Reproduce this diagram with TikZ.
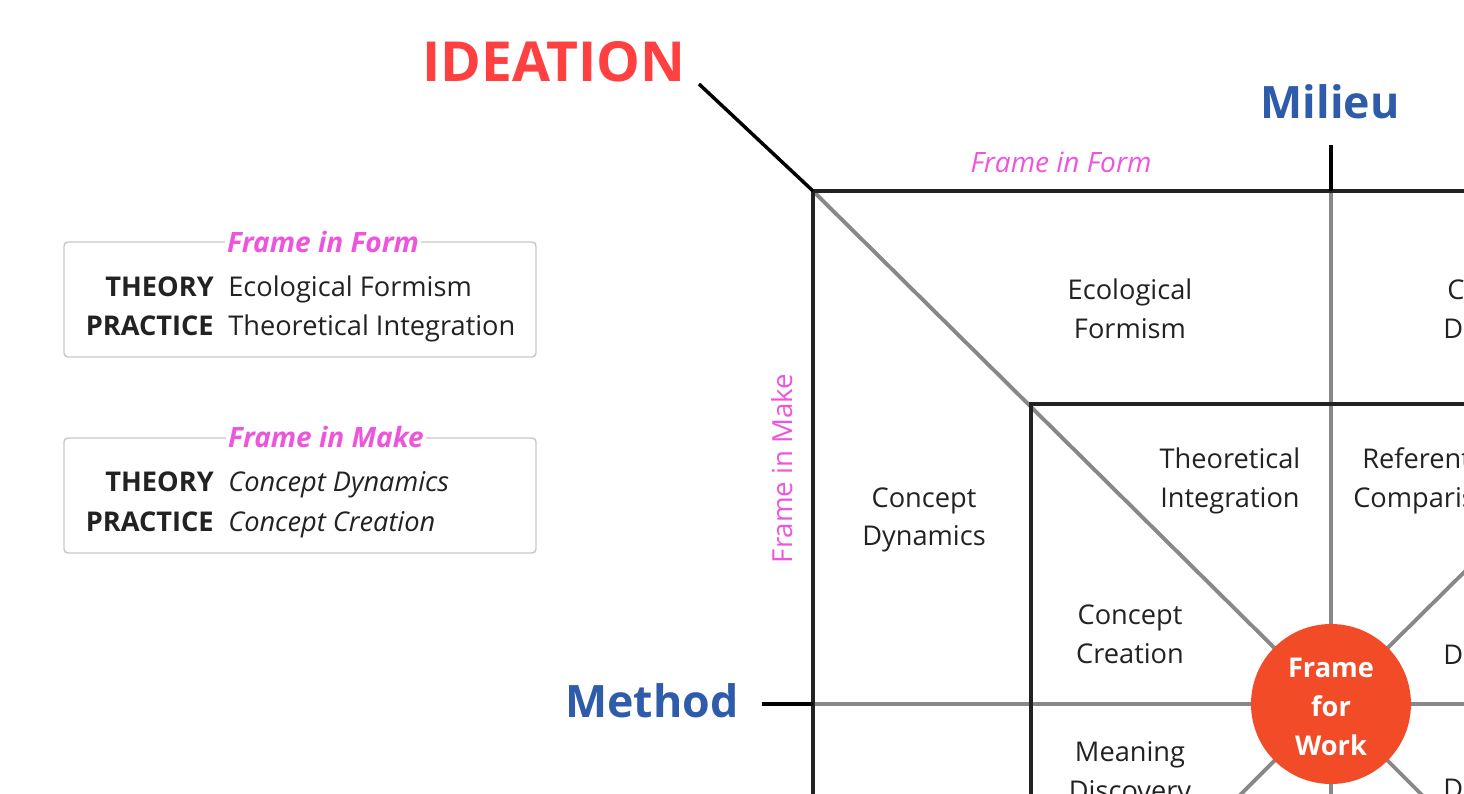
\documentclass[tikz,border=0pt]{standalone}
\usepackage{fontspec}
\setmainfont{Open Sans}
\definecolor{ideared}{RGB}{255,64,64}
\definecolor{milieublue}{RGB}{46,91,170}
\definecolor{framepink}{RGB}{238,85,221}
\definecolor{workred}{RGB}{242,75,40}
\definecolor{linegrey}{RGB}{136,136,136}
\definecolor{boxgrey}{RGB}{200,200,200}
\definecolor{ink}{RGB}{34,34,34}
\tikzset{stub/.style = {line width = 2.6pt, black}}
\tikzset{frameline/.style = {line width = 3pt, ink}}
\tikzset{spoke/.style = {line width = 2.9pt, linegrey}}
\tikzset{celltext/.style = {align = center, text = ink, font = \fontsize{20.4}{29}\selectfont}}
\tikzset{cutword/.style = {celltext, anchor = base west, inner sep = 0}}
\tikzset{rowkey/.style = {text = ink, font = \fontsize{20.4}{29}\selectfont\bfseries, anchor = base east, inner sep = 0}}
\tikzset{rowval/.style = {text = ink, font = \fontsize{20.4}{29}\selectfont, anchor = base west, inner sep = 0}}
\tikzset{infobox/.style = {draw = boxgrey, line width = 1.1pt, rounded corners = 3pt, minimum width = 354pt, minimum height = 86.25pt}}
\tikzset{boxtitle/.style = {fill = white, text = framepink, font = \fontsize{21}{25}\selectfont\bfseries\itshape, anchor = base, inner xsep = 1.5pt, inner ysep = 0}}
\tikzset{framelabel/.style = {text = framepink, font = \fontsize{20.7}{24}\selectfont}}
\tikzset{bigword/.style = {font = \fontsize{33.5}{40}\selectfont\bfseries, text = milieublue}}
\tikzset{workdot/.style = {circle, fill = workred, minimum size = 120pt, inner sep = 0}}
\tikzset{worktext/.style = {align = center, text = white, font = \fontsize{20.4}{29}\selectfont\bfseries}}

\begin{document}
\begin{tikzpicture}[x = 0.75pt, y = -0.75pt]
    \useasboundingbox (0, 0) rectangle (1464, 793);
    \clip (0, 0) rectangle (1464, 793);

    \coordinate (outer) at (813, 191);
    \coordinate (inner) at (1031, 404);
    \coordinate (centre) at (1331, 704);

    % grey spokes through the centre
    \draw [spoke] (outer) -- (centre) -- (1849, 191);
    \draw [spoke] (813, 1222) -- (centre) -- (1849, 1222);
    \draw [spoke] (1331, 191) -- (1331, 900);
    \draw [spoke] (813, 704) -- (1700, 704);

    \draw [frameline] (813, 900) -- (outer) -- (1700, 191);
    \draw [frameline] (1031, 900) -- (inner) -- (1700, 404);

    \node [bigword, text = ideared, font = \fontsize{41.4}{46}\selectfont\bfseries] (ideation) at (554, 62) {IDEATION};
    \node [bigword] (milieu) at (1330, 102) {Milieu};
    \node [bigword] (method) at (652, 701) {Method};
    \coordinate (ideaend) at (699, 84);
    \coordinate (milieuend) at (1331, 145);
    \coordinate (methodend) at (762, 704);
    \draw [stub] (ideaend) -- (outer);
    \draw [stub] (milieuend) -- (1331, 191);
    \draw [stub] (methodend) -- (813, 704);

    \node [framelabel, font = \fontsize{21}{24}\selectfont\itshape] (formlabel) at (1061, 162) {Frame in Form};
    \node [framelabel, rotate = 90] (makelabel) at (782.5, 468.5) {Frame in Make};

    \node [celltext] (formism) at (1130, 311.3) {\strut Ecological\\\strut Formism};
    \node [celltext] (integration) at (1230, 480.5) {\strut Theoretical\\\strut Integration};
    \node [celltext] (dynamics) at (924, 518.8) {\strut Concept\\\strut Dynamics};
    \node [celltext] (creation) at (1130, 636.3) {\strut Concept\\\strut Creation};
    \node [celltext] (discovery) at (1130, 773) {\strut Meaning\\\strut Discovery};
    \node [cutword] (cutc) at (1447, 299.3) {C};
    \node [cutword] (cutd) at (1443, 338) {D};
    \node [cutword] (cutref) at (1362, 468) {Referent};
    \node [cutword] (cutcomp) at (1353, 507) {Comparis};
    \node [cutword] (cutde) at (1443, 664) {De};
    \node [cutword] (cutdi) at (1443, 798.6) {Di};

    \node [workdot] (work) at (centre) {};
    \node [worktext] (worklabel) at ([yshift = -3.45pt] work.center) {\strut Frame\\\strut for\\\strut Work};

    % legend boxes
    \node [infobox] (formbox) at (300, 299.5) {};
    \node [boxtitle] (formtitle) at (323, 252.3) {Frame in Form};
    \node [rowkey] (formtheory) at (214, 296) {THEORY};
    \node [rowval] at ([xshift = 10.5pt] formtheory.base east) {Ecological Formism};
    \node [rowkey] (formpractice) at (214, 335.3) {PRACTICE};
    \node [rowval] at ([xshift = 10.5pt] formpractice.base east) {Theoretical Integration};

    \node [infobox] (makebox) at (300, 495.5) {};
    \node [boxtitle] (maketitle) at (326, 447.7) {Frame in Make};
    \node [rowkey] (maketheory) at (214, 491.7) {THEORY};
    \node [rowval] at ([xshift = 10.5pt] maketheory.base east) {\itshape Concept Dynamics};
    \node [rowkey] (makepractice) at (214, 531.7) {PRACTICE};
    \node [rowval] at ([xshift = 10.5pt] makepractice.base east) {\itshape Concept Creation};
\end{tikzpicture}
\end{document}
